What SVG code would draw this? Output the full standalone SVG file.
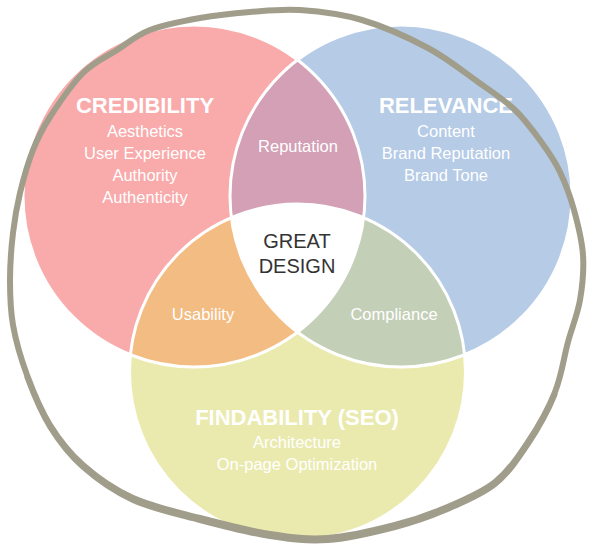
<svg xmlns="http://www.w3.org/2000/svg" width="595" height="555" viewBox="0 0 595 555">
<style>
  .lbl{font-family:"Liberation Sans",Arial,sans-serif;fill:#ffffff;text-anchor:middle}
  .title{font-size:22px;font-weight:bold}
  .item{font-size:16.5px}
  .center{font-family:"Liberation Sans",Arial,sans-serif;fill:#333333;text-anchor:middle;font-size:20px}
  .sep{fill:none;stroke:#ffffff;stroke-width:3}
  .ring{fill:none;stroke:#A19D8B;stroke-linejoin:round;stroke-linecap:round}
</style>
<defs>
  <clipPath id="cR"><circle cx="194" cy="196" r="171"/></clipPath>
  <clipPath id="cB"><circle cx="401" cy="196" r="171"/></clipPath>
</defs>
<rect width="595" height="555" fill="#ffffff"/>

<g id="credibility">
  <circle cx="194" cy="196" r="171" fill="#F9AAAB"/>
</g>
<g id="relevance">
  <circle cx="401" cy="196" r="171" fill="#B5CBE6"/>
</g>
<g id="findability">
  <circle cx="297.5" cy="372" r="168" fill="#EAEAAF"/>
</g>
<g id="reputation">
  <circle cx="401" cy="196" r="171" fill="#D3A0B5" clip-path="url(#cR)"/>
</g>
<g id="usability">
  <circle cx="297.5" cy="372" r="168" fill="#F2BC82" clip-path="url(#cR)"/>
</g>
<g id="compliance">
  <circle cx="297.5" cy="372" r="168" fill="#C4CFB8" clip-path="url(#cB)"/>
</g>
<g id="great-design">
  <g clip-path="url(#cR)">
    <circle cx="297.5" cy="372" r="168" fill="#ffffff" clip-path="url(#cB)"/>
  </g>
</g>
<g id="separators">
  <circle class="sep" cx="194" cy="196" r="171"/>
  <circle class="sep" cx="401" cy="196" r="171"/>
  <circle class="sep" cx="297.5" cy="372" r="168"/>
</g>

<g id="labels">
  <text class="lbl title" x="145" y="113">CREDIBILITY</text>
  <text class="lbl item" x="145" y="137">Aesthetics</text>
  <text class="lbl item" x="145" y="159">User Experience</text>
  <text class="lbl item" x="145" y="181">Authority</text>
  <text class="lbl item" x="145" y="203">Authenticity</text>

  <text class="lbl title" x="446" y="113">RELEVANCE</text>
  <text class="lbl item" x="446" y="137">Content</text>
  <text class="lbl item" x="446" y="159">Brand Reputation</text>
  <text class="lbl item" x="446" y="181">Brand Tone</text>

  <text class="lbl item" x="298" y="152">Reputation</text>
  <text class="center" x="297" y="248">GREAT</text>
  <text class="center" x="297" y="273">DESIGN</text>
  <text class="lbl item" x="203" y="320">Usability</text>
  <text class="lbl item" x="394" y="320">Compliance</text>

  <text class="lbl title" x="297" y="425">FINDABILITY (SEO)</text>
  <text class="lbl item" x="297" y="448">Architecture</text>
  <text class="lbl item" x="297" y="470">On-page Optimization</text>
</g>

<g id="outer-ring">
  <path class="ring" stroke-width="6" d="M300,10 C318.7,11.3 340.7,13.7 362,20 S408.7,37.7 428,48 S463.5,71.7 478,82 S504.3,99.8 515,110 S534.5,132.7 542,143 S554.7,160.8 560,172 S570.2,196.2 574,210 S582,240 583,255 S582.5,285.5 580,300 S572.2,326.7 568,342 S561.7,375.3 555,392 S538,427 528,442 S508.8,471 495,482 S461.7,500.8 445,508 S414.5,520 395,525 S348.8,536.5 328,538 S291.3,537.3 270,534 S222.8,524 200,518 S152.5,506.8 133,498 S96.8,477.2 83,465 S59.3,440 50,425 S33.2,391.7 27,375 S15.8,340.8 13,325 S10,295.3 10,280 S11.3,247.5 13,233 S16.7,206.8 20,193 S28,162.7 33,150 S41.7,129.8 50,117 S71.8,84.2 83,73 S105.8,57.2 117,50 S136.2,35.3 150,30 S183.3,21 200,18 S233.3,13.3 250,12 S281.3,8.7 300,10 Z"/>
  <path class="ring" stroke-width="5" transform="translate(0,2.5)" d="M555,392 C548.3,408.7 538,427 528,442 S508.8,471 495,482 S461.7,500.8 445,508 S414.5,520 395,525 S348.8,536.5 328,538 S291.3,537.3 270,534 S222.8,524 200,518 S152.5,506.8 133,498 S96.8,477.2 83,465 S59.3,440 50,425 S33.2,391.7 27,375"/>
</g>
</svg>
